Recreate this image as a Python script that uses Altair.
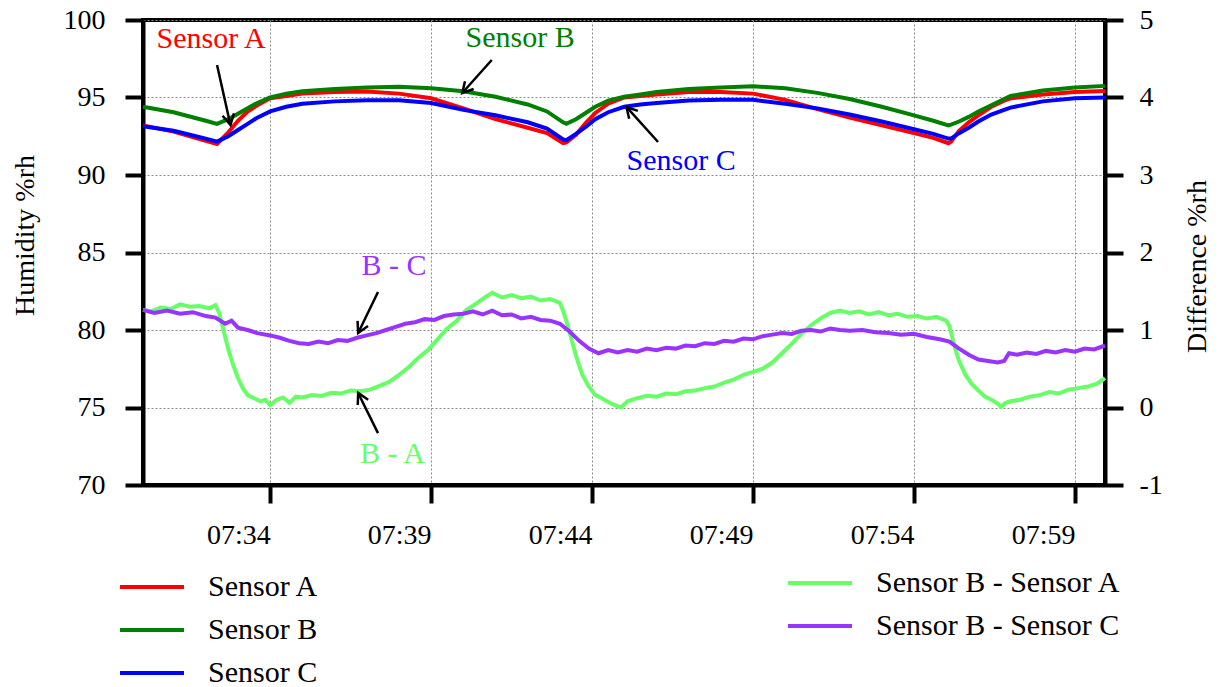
import altair as alt
import pandas as pd

# ---------------- data (minutes after 07:30) ----------------
sensor_t = [0.05, 1.0, 2.0, 2.35, 2.7, 3.0, 3.3, 3.6, 4.0, 4.5, 5.0, 6.0, 7.0, 8.0, 9.0,
            10.0, 11.0, 12.0, 12.6, 13.1, 13.2, 13.5, 13.8, 14.1, 14.5, 15.0, 15.5, 16.0,
            17.0, 18.0, 19.0, 20.0, 21.0, 22.0, 23.0, 24.0, 24.6, 25.06, 25.15, 25.4, 25.7,
            26.0, 26.4, 26.8, 27.0, 28.0, 29.0, 29.93]
sensor_a = [93.2, 92.8, 92.2, 92.0, 92.75, 93.5, 94.1, 94.5, 94.95, 95.1, 95.25, 95.35, 95.38,
            95.25, 94.95, 94.3, 93.6, 93.05, 92.7, 92.05, 92.1, 92.6, 93.35, 94.0, 94.6, 95.0,
            95.1, 95.2, 95.35, 95.35, 95.25, 94.85, 94.25, 93.7, 93.2, 92.7, 92.4, 92.05, 92.15,
            92.85, 93.4, 93.85, 94.4, 94.8, 94.95, 95.2, 95.35, 95.42]
sensor_b = [94.4, 94.05, 93.5, 93.3, 93.6, 93.95, 94.3, 94.65, 95.0, 95.25, 95.4, 95.55, 95.65,
            95.7, 95.6, 95.4, 95.05, 94.55, 94.1, 93.4, 93.3, 93.6, 94.0, 94.4, 94.8, 95.05,
            95.2, 95.35, 95.55, 95.65, 95.72, 95.6, 95.3, 94.9, 94.4, 93.85, 93.5, 93.2, 93.25,
            93.45, 93.75, 94.1, 94.5, 94.9, 95.1, 95.45, 95.65, 95.75]
sensor_c = [93.15, 92.85, 92.35, 92.15, 92.5, 92.9, 93.3, 93.7, 94.1, 94.4, 94.6, 94.75, 94.82,
            94.82, 94.65, 94.2, 93.85, 93.4, 93.0, 92.3, 92.25, 92.65, 93.1, 93.6, 94.05, 94.4,
            94.55, 94.65, 94.8, 94.85, 94.85, 94.6, 94.3, 93.9, 93.45, 92.95, 92.65, 92.35, 92.35,
            92.7, 93.05, 93.45, 93.9, 94.2, 94.35, 94.75, 94.95, 95.0]

ba_t = [0.05, 0.3, 0.6, 0.9, 1.2, 1.5, 1.8, 2.1, 2.3, 2.42, 2.55, 2.7, 2.85, 3.0, 3.15, 3.3,
        3.5, 3.7, 3.85, 4.0, 4.2, 4.4, 4.6, 4.8, 5.0, 5.3, 5.6, 5.9, 6.2, 6.5, 6.8, 7.1, 7.4,
        7.7, 8.0, 8.3, 8.6, 8.9, 9.2, 9.5, 9.8, 10.1, 10.4, 10.7, 10.9, 11.2, 11.5, 11.8, 12.1,
        12.4, 12.7, 13.0, 13.1, 13.25, 13.4, 13.55, 13.7, 13.9, 14.1, 14.3, 14.5, 14.7, 14.9,
        15.1, 15.4, 15.7, 16.0, 16.3, 16.6, 16.9, 17.2, 17.5, 17.8, 18.1, 18.4, 18.7, 19.0,
        19.3, 19.6, 19.9, 20.2, 20.5, 20.8, 21.1, 21.4, 21.7, 22.0, 22.3, 22.6, 22.9, 23.2,
        23.5, 23.8, 24.1, 24.4, 24.7, 25.0, 25.1, 25.25, 25.4, 25.6, 25.8, 26.0, 26.2, 26.4,
        26.6, 26.7, 26.85, 27.0, 27.3, 27.6, 27.9, 28.2, 28.5, 28.8, 29.1, 29.4, 29.7, 29.93]
ba_v = [1.26, 1.24, 1.29, 1.27, 1.33, 1.30, 1.31, 1.28, 1.32, 1.22, 1.0, 0.75, 0.55, 0.38, 0.25,
        0.16, 0.12, 0.08, 0.1, 0.03, 0.1, 0.13, 0.06, 0.14, 0.13, 0.16, 0.15, 0.19, 0.18, 0.22,
        0.21, 0.23, 0.28, 0.33, 0.42, 0.52, 0.64, 0.74, 0.88, 1.02, 1.12, 1.26, 1.34, 1.43, 1.48,
        1.42, 1.45, 1.41, 1.43, 1.38, 1.40, 1.35, 1.25, 1.05, 0.82, 0.6, 0.42, 0.27, 0.16, 0.12,
        0.07, 0.03, 0.0, 0.08, 0.12, 0.15, 0.14, 0.18, 0.17, 0.21, 0.22, 0.25, 0.27, 0.32, 0.36,
        0.42, 0.46, 0.5, 0.58, 0.7, 0.82, 0.95, 1.06, 1.15, 1.22, 1.25, 1.22, 1.24, 1.2, 1.23,
        1.19, 1.21, 1.17, 1.18, 1.15, 1.17, 1.12, 1.05, 0.8, 0.6, 0.42, 0.3, 0.22, 0.14, 0.1,
        0.05, 0.01, 0.06, 0.08, 0.1, 0.14, 0.16, 0.2, 0.18, 0.23, 0.25, 0.27, 0.31, 0.38]

bc_t = [0.05, 0.4, 0.8, 1.2, 1.6, 2.0, 2.3, 2.6, 2.8, 3.0, 3.3, 3.6, 4.0, 4.3, 4.6, 4.9, 5.2,
        5.5, 5.8, 6.1, 6.4, 6.7, 7.0, 7.3, 7.6, 7.9, 8.2, 8.5, 8.8, 9.1, 9.4, 9.7, 10.0, 10.3,
        10.6, 10.9, 11.2, 11.5, 11.8, 12.1, 12.4, 12.7, 13.0, 13.3, 13.6, 13.9, 14.2, 14.5,
        14.8, 15.1, 15.4, 15.7, 16.0, 16.3, 16.6, 16.9, 17.2, 17.5, 17.8, 18.1, 18.4, 18.7,
        19.0, 19.3, 19.6, 19.9, 20.2, 20.5, 20.8, 21.1, 21.4, 21.7, 22.0, 22.4, 22.8, 23.2,
        23.6, 24.0, 24.4, 24.8, 25.1, 25.4, 25.7, 26.0, 26.3, 26.6, 26.8, 26.95, 27.2, 27.5,
        27.8, 28.1, 28.4, 28.7, 29.0, 29.3, 29.6, 29.93]
bc_v = [1.26, 1.22, 1.25, 1.21, 1.23, 1.18, 1.16, 1.08, 1.12, 1.03, 1.0, 0.96, 0.93, 0.9, 0.86,
        0.83, 0.82, 0.85, 0.83, 0.87, 0.86, 0.9, 0.93, 0.96, 1.0, 1.04, 1.08, 1.1, 1.14, 1.13,
        1.18, 1.2, 1.21, 1.24, 1.2, 1.25, 1.19, 1.2, 1.15, 1.17, 1.13, 1.12, 1.08, 0.98, 0.86,
        0.76, 0.7, 0.74, 0.71, 0.74, 0.72, 0.76, 0.74, 0.77, 0.76, 0.8, 0.79, 0.83, 0.82, 0.86,
        0.85, 0.89, 0.88, 0.92, 0.94, 0.96, 0.95, 0.99, 1.0, 0.98, 1.02, 1.0, 0.99, 1.0, 0.97,
        0.96, 0.94, 0.95, 0.91, 0.88, 0.85, 0.76, 0.68, 0.62, 0.6, 0.58, 0.6, 0.7, 0.68, 0.71,
        0.69, 0.73, 0.71, 0.74, 0.72, 0.76, 0.75, 0.8]

sensor_names = ["Sensor A", "Sensor B", "Sensor C"]
sensor_colors = ["#ff0000", "#008000", "#0000ff"]
diff_names = ["Sensor B - Sensor A", "Sensor B - Sensor C"]
diff_colors = ["#66ff66", "#9933ff"]

x_ticks = [34, 39, 44, 49, 54, 59]
y_left_ticks = [70, 75, 80, 85, 90, 95, 100]
y_right_ticks = [-1, 0, 1, 2, 3, 4, 5]

# annotations (time in minutes after 07:30, value on humidity axis)
ann_labels = ["Sensor A", "Sensor B", "Sensor C", "B - C", "B - A"]
ann_colors = ["#ff0000", "#008000", "#0000ff", "#9933ff", "#66ff66"]
ann_text_t = [2.17, 11.76, 16.76, 7.85, 7.8]
ann_text_v = [98.77, 98.84, 90.9, 84.1, 72.0]
arrow_tail_t = [2.35, 10.89, 16.05, 7.35, 7.35]
arrow_tail_v = [97.1, 97.42, 92.13, 82.45, 73.35]
arrow_tip_t = [2.76, 9.96, 15.06, 6.73, 6.73]
arrow_tip_v = [93.23, 95.29, 94.39, 79.81, 75.94]
arrow_angle = [168, 222, 318, 206, 333]

# ---------------- build ----------------
BASE = pd.Timestamp("2020-01-01 07:30:00")


def to_time(mins):
    return [BASE + pd.Timedelta(seconds=round(m * 60)) for m in mins]


n = len(sensor_t)
sensor_df = pd.DataFrame({
    "time": to_time(sensor_t) * 3,
    "value": sensor_a + sensor_b + sensor_c,
    "series": [sensor_names[0]] * n + [sensor_names[1]] * n + [sensor_names[2]] * n,
})
diff_df = pd.DataFrame({
    "time": to_time(ba_t) + to_time(bc_t),
    "diff": ba_v + bc_v,
    "series": [diff_names[0]] * len(ba_t) + [diff_names[1]] * len(bc_t),
})
arrow_df = pd.DataFrame({
    "time": to_time(arrow_tail_t), "time2": to_time(arrow_tip_t),
    "value": arrow_tail_v, "value2": arrow_tip_v, "angle": arrow_angle,
})

FONT = "Liberation Serif"


def dt(minute, second=0):
    return alt.DateTime(year=2020, month=1, date=1, hours=7, minutes=minute, seconds=second)


x_scale = alt.Scale(domain=[dt(30, 3), dt(59, 56)])
y_scale = alt.Scale(domain=[70, 100], nice=False, zero=False)

axis_style = dict(labelFont=FONT, labelFontSize=28, labelColor="black",
                  titleFont=FONT, titleFontSize=28, titleFontWeight="normal",
                  titleColor="black")

x_axis = alt.Axis(values=[dt(m) for m in x_ticks], format="%H:%M", title=None,
                  labelAlign="right", labelBaseline="top", labelPadding=18,
                  grid=True, labelFlush=False, **axis_style)
y_axis = alt.Axis(values=y_left_ticks, title="Humidity %rh", grid=True,
                  labelPadding=20, titleAngle=270, titleX=-118, titleY=215,
                  titleAlign="center", titleBaseline="middle", **axis_style)

legend_common = dict(orient="none", title=None, symbolType="stroke", symbolSize=4096,
                     symbolStrokeWidth=4, labelFontSize=30, labelFont=FONT,
                     labelColor="black", labelOffset=22, rowPadding=13, clipHeight=30,
                     labelLimit=400, padding=0, direction="vertical")

sensor_lines = alt.Chart(sensor_df).mark_line(strokeWidth=4).encode(
    x=alt.X("time:T", scale=x_scale, axis=x_axis),
    y=alt.Y("value:Q", scale=y_scale, axis=y_axis),
    color=alt.Color("series:N", scale=alt.Scale(domain=sensor_names, range=sensor_colors),
                    legend=alt.Legend(legendX=-25, legendY=552, **legend_common)),
)

rules = alt.Chart(arrow_df).mark_rule(color="black", strokeWidth=2.5).encode(
    x=alt.X("time:T", scale=x_scale, axis=x_axis), x2="time2:T",
    y=alt.Y("value:Q", scale=y_scale, axis=y_axis), y2="value2:Q",
)
heads = alt.Chart(arrow_df).mark_point(
    shape="M -0.55 1 L 0 0 L 0.55 1", filled=False, color="black", strokeWidth=2.5,
    size=450, opacity=1,
).encode(
    x=alt.X("time2:T", scale=x_scale, axis=x_axis),
    y=alt.Y("value2:Q", scale=y_scale, axis=y_axis),
    angle=alt.Angle("angle:Q", scale=None),
)

texts = []
for lab, col, tt, vv in zip(ann_labels, ann_colors, ann_text_t, ann_text_v):
    df = pd.DataFrame({"time": to_time([tt]), "value": [vv], "label": [lab]})
    texts.append(
        alt.Chart(df).mark_text(color=col, font=FONT, fontSize=30, align="center",
                                baseline="middle").encode(
            x=alt.X("time:T", scale=x_scale, axis=x_axis),
            y=alt.Y("value:Q", scale=y_scale, axis=y_axis),
            text="label:N",
        )
    )

left = alt.layer(sensor_lines, rules, heads, *texts)

diff_lines = alt.Chart(diff_df).mark_line(strokeWidth=4).encode(
    x=alt.X("time:T", scale=x_scale, axis=x_axis),
    y=alt.Y("diff:Q", scale=alt.Scale(domain=[-1, 5], nice=False, zero=False),
            axis=alt.Axis(orient="right", values=y_right_ticks, title="Difference %rh",
                          grid=False, labelAlign="left", labelPadding=16,
                          labelExpr="'' + datum.value",
                          titleAngle=270, titleX=92, titleY=246,
                          titleAlign="center", titleBaseline="middle", **axis_style)),
    color=alt.Color("series:N", scale=alt.Scale(domain=diff_names, range=diff_colors),
                    legend=alt.Legend(legendX=643, legendY=548, **legend_common)),
)

chart = alt.layer(diff_lines, left).resolve_scale(
    y="independent", color="independent"
).properties(
    width=962, height=465,
    autosize=alt.AutoSizeParams(type="none"),
    padding={"left": 143, "top": 20, "right": 115, "bottom": 202},
).configure(
    font=FONT,
).configure_view(
    stroke="black", strokeWidth=4,
).configure_axis(
    domainColor="black", domainWidth=4, tickColor="black", tickWidth=4, tickSize=18,
    gridColor="#8a8a8a", gridDash=[2, 2], gridWidth=1,
)

chart.save("out.html", embed_options={"renderer": "svg", "actions": False})
